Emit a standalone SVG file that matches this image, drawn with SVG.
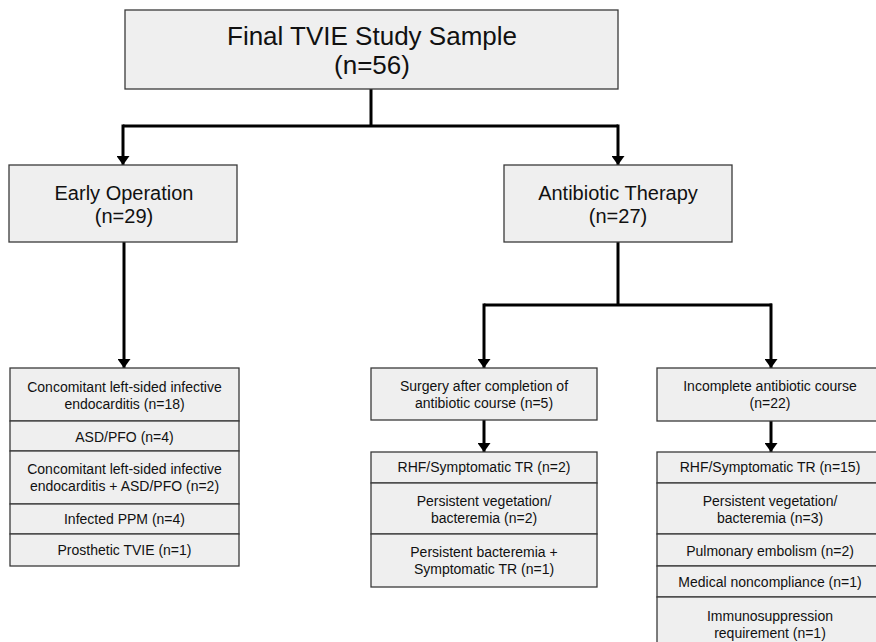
<svg xmlns="http://www.w3.org/2000/svg" width="876" height="642" viewBox="0 0 876 642">
<style>
.box{fill:#efefef;stroke:#3a3a3a;stroke-width:1.3}
.t{font-family:"Liberation Sans",Arial,sans-serif;fill:#111;text-anchor:middle}
.t26{font-size:26px}
.t20{font-size:20px}
.t14{font-size:14px}
.c{fill:none;stroke:#000;stroke-width:3}
</style>
<defs>
<marker id="arr" markerUnits="userSpaceOnUse" viewBox="0 0 9 13" refX="9" refY="6.5" markerWidth="9" markerHeight="13" orient="auto">
<path d="M0,0 L9,6.5 L0,13 z" fill="#000"/>
</marker>
</defs>
<rect width="876" height="642" fill="#fff"/>

<g id="connectors">
<path class="c" d="M371,89 V126"/>
<path class="c" d="M123,126 H618"/>
<path class="c" d="M123,124.5 V165" marker-end="url(#arr)"/>
<path class="c" d="M618,124.5 V165" marker-end="url(#arr)"/>
<path class="c" d="M124,242 V368" marker-end="url(#arr)"/>
<path class="c" d="M618,242 V305"/>
<path class="c" d="M484,305 H772"/>
<path class="c" d="M484,303.5 V368" marker-end="url(#arr)"/>
<path class="c" d="M771,303.5 V368" marker-end="url(#arr)"/>
<path class="c" d="M484,420 V452" marker-end="url(#arr)"/>
<path class="c" d="M771,421 V452" marker-end="url(#arr)"/>
</g>

<g id="final-sample">
<rect class="box" x="125" y="10" width="493" height="79"/>
<text class="t t26" x="372" y="45">Final TVIE Study Sample</text>
<text class="t t26" x="372" y="74">(n=56)</text>
</g>

<g id="early-operation">
<rect class="box" x="9" y="165" width="228" height="77"/>
<text class="t t20" x="124" y="200">Early Operation</text>
<text class="t t20" x="124" y="223">(n=29)</text>
</g>

<g id="antibiotic-therapy">
<rect class="box" x="504" y="165" width="228" height="77"/>
<text class="t t20" x="618" y="200">Antibiotic Therapy</text>
<text class="t t20" x="618" y="223">(n=27)</text>
</g>

<g id="early-reasons">
<rect class="box" x="10" y="368" width="229" height="53"/>
<text class="t t14" x="124.5" y="392">Concomitant left-sided infective</text>
<text class="t t14" x="124.5" y="409">endocarditis (n=18)</text>
<rect class="box" x="10" y="421" width="229" height="30"/>
<text class="t t14" x="124.5" y="442">ASD/PFO (n=4)</text>
<rect class="box" x="10" y="451" width="229" height="53"/>
<text class="t t14" x="124.5" y="474">Concomitant left-sided infective</text>
<text class="t t14" x="124.5" y="491">endocarditis + ASD/PFO (n=2)</text>
<rect class="box" x="10" y="504" width="229" height="30"/>
<text class="t t14" x="124.5" y="524">Infected PPM (n=4)</text>
<rect class="box" x="10" y="534" width="229" height="32"/>
<text class="t t14" x="124.5" y="555">Prosthetic TVIE (n=1)</text>
</g>

<g id="surgery-after-completion">
<rect class="box" x="371" y="368" width="226" height="52"/>
<text class="t t14" x="484" y="391">Surgery after completion of</text>
<text class="t t14" x="484" y="408">antibiotic course (n=5)</text>
</g>

<g id="incomplete-course">
<rect class="box" x="657" y="368" width="228" height="53"/>
<text class="t t14" x="770" y="391">Incomplete antibiotic course</text>
<text class="t t14" x="770" y="408">(n=22)</text>
</g>

<g id="surgery-reasons">
<rect class="box" x="371" y="452" width="226" height="31"/>
<text class="t t14" x="484" y="472">RHF/Symptomatic TR (n=2)</text>
<rect class="box" x="371" y="483" width="226" height="51"/>
<text class="t t14" x="484" y="506">Persistent vegetation/</text>
<text class="t t14" x="484" y="523">bacteremia (n=2)</text>
<rect class="box" x="371" y="534" width="226" height="53"/>
<text class="t t14" x="484" y="557">Persistent bacteremia +</text>
<text class="t t14" x="484" y="574">Symptomatic TR (n=1)</text>
</g>

<g id="incomplete-reasons">
<rect class="box" x="657" y="452" width="228" height="31"/>
<text class="t t14" x="770" y="472">RHF/Symptomatic TR (n=15)</text>
<rect class="box" x="657" y="483" width="228" height="51"/>
<text class="t t14" x="770" y="506">Persistent vegetation/</text>
<text class="t t14" x="770" y="523">bacteremia (n=3)</text>
<rect class="box" x="657" y="534" width="228" height="32"/>
<text class="t t14" x="770" y="556">Pulmonary embolism (n=2)</text>
<rect class="box" x="657" y="566" width="228" height="31"/>
<text class="t t14" x="770" y="587">Medical noncompliance (n=1)</text>
<rect class="box" x="657" y="597" width="228" height="58"/>
<text class="t t14" x="770" y="621">Immunosuppression</text>
<text class="t t14" x="770" y="638">requirement (n=1)</text>
</g>
</svg>
